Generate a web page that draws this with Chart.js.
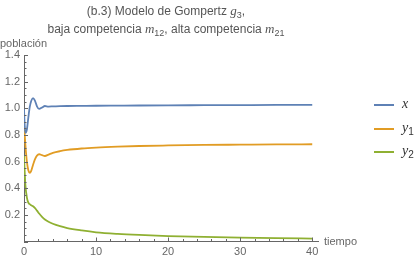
<!DOCTYPE html>
<html>
<head>
<meta charset="utf-8">
<script src="https://cdn.jsdelivr.net/npm/chart.js@4.4.0/dist/chart.umd.min.js"></script>
<style>
  body { margin: 0; background: #fff; }
  #wrap { position: relative; width: 418px; height: 259px; font-family: "Liberation Sans", Arial, sans-serif; color: #555; }
  #c { position: absolute; left: 0; top: 0; }
  .title { position: absolute; left: 0; width: 332px; text-align: center; font-size: 12px; line-height: 14px; white-space: nowrap; }
  .title i { font-family: "Liberation Serif", serif; font-size: 13px; }
  .title sub { font-size: 9px; vertical-align: -3px; line-height: 0; }
  .axlab { position: absolute; font-size: 11px; line-height: 12px; color: #666; white-space: nowrap; }
  .leg { position: absolute; left: 374px; width: 20px; height: 2px; }
  .legtxt { position: absolute; left: 402px; font-family: "Liberation Serif", serif; font-style: italic; font-size: 14px; line-height: 14px; color: #333; }
  .legtxt sub { font-family: "Liberation Sans", sans-serif; font-style: normal; font-size: 10px; vertical-align: -3px; line-height: 0; }
</style>
</head>
<body>
<div id="wrap">
  <canvas id="c" width="418" height="259"></canvas>
  <div class="title" style="top:4px">(b.3) Modelo de Gompertz <i>g</i><sub>3</sub>,</div>
  <div class="title" style="top:22px">baja competencia <i>m</i><sub>12</sub>, alta competencia <i>m</i><sub>21</sub></div>
  <div class="axlab" style="left:0;top:37px">población</div>
  <div class="axlab" style="left:324px;top:235px">tiempo</div>
  <div class="leg" style="top:104px;background:#5E81B5"></div>
  <div class="legtxt" style="top:97px">x</div>
  <div class="leg" style="top:128px;background:#E19C24"></div>
  <div class="legtxt" style="top:121px">y<sub>1</sub></div>
  <div class="leg" style="top:151px;background:#8FB032"></div>
  <div class="legtxt" style="top:144px">y<sub>2</sub></div>
</div>
<script>
/* ── Data ──────────────────────────────────────────────── */
const T  = [0, 0.1, 0.2, 0.4, 0.6, 0.8, 1.0, 1.25, 1.5, 1.8, 2.1, 2.5, 2.9, 3.4, 4, 5, 6, 8, 10, 13, 16, 20, 25, 30, 35, 40];
const X  = [1.0, 0.87, 0.815, 0.84, 0.93, 1.01, 1.055, 1.077, 1.06, 1.015, 0.995, 1.006, 1.017, 1.013, 1.014, 1.016, 1.017, 1.018, 1.019, 1.02, 1.021, 1.022, 1.023, 1.024, 1.025, 1.025];
const Y1 = [0.88, 0.8, 0.72, 0.6, 0.535, 0.515, 0.53, 0.575, 0.615, 0.645, 0.655, 0.648, 0.642, 0.652, 0.665, 0.678, 0.687, 0.698, 0.705, 0.712, 0.717, 0.721, 0.725, 0.727, 0.729, 0.73];
const Y2 = [0.65, 0.52, 0.42, 0.33, 0.292, 0.28, 0.272, 0.264, 0.252, 0.232, 0.21, 0.185, 0.165, 0.148, 0.133, 0.115, 0.101, 0.083, 0.069, 0.057, 0.049, 0.041, 0.034, 0.029, 0.025, 0.022];

const X_TICKS = [0, 10, 20, 30, 40];
const Y_TICKS = [0, 0.2, 0.4, 0.6, 0.8, 1.0, 1.2, 1.4];

const AXIS = '#666';
const FONT = { family: 'Liberation Sans', size: 11 };

const pts = ys => T.map((t, i) => ({ x: t, y: ys[i] }));

const line = (label, ys, color) => ({
    label            : label,
    data             : pts(ys),
    borderColor      : color,
    borderWidth      : 1.8,
    pointRadius      : 0,
    fill             : false,
    cubicInterpolationMode : 'monotone',
});

/* Mathematica-style inward ticks, major + minor */
const axisTicks = {
    id: 'axisTicks',
    afterDraw(chart) {
        const { ctx, chartArea: a, scales: { x, y } } = chart;
        ctx.save();
        ctx.strokeStyle = AXIS;
        ctx.lineWidth = 1;
        ctx.beginPath();
        for (let v = 0; v <= 40; v += 2) {
            const px = Math.round(x.getPixelForValue(v)) + 0.5;
            const len = v % 10 === 0 ? 4 : 2.5;
            ctx.moveTo(px, a.bottom);
            ctx.lineTo(px, a.bottom - len);
        }
        for (let k = 0; k <= 28; k++) {
            const v = k * 0.05;
            const py = Math.round(y.getPixelForValue(v)) + 0.5;
            const len = k % 4 === 0 ? 4 : 2.5;
            ctx.moveTo(a.left, py);
            ctx.lineTo(a.left + len, py);
        }
        ctx.stroke();
        ctx.restore();
    },
};

new Chart(document.getElementById('c'), {
    type : 'line',
    data : {
        datasets : [
            line('x',  X,  '#5E81B5'),
            line('y1', Y1, '#E19C24'),
            line('y2', Y2, '#8FB032'),
        ],
    },
    options : {
        responsive : false,
        animation  : false,
        layout     : { padding: { left: 0, top: 55, right: 100, bottom: 0 } },
        plugins    : {
            legend  : { display: false },
            title   : { display: false },
            tooltip : { enabled: false },
        },
        scales : {
            x : {
                type : 'linear',
                min  : 0,
                max  : 40.8,
                afterBuildTicks : s => { s.ticks = X_TICKS.map(v => ({ value: v })); },
                afterFit        : s => { s.height = 17.5; },
                ticks  : { color: AXIS, font: FONT, padding: 4, maxRotation: 0, autoSkip: false },
                grid   : { display: false, drawTicks: false },
                border : { display: true, color: AXIS, width: 1 },
            },
            y : {
                type : 'linear',
                min  : 0,
                max  : 1.4,
                afterBuildTicks : s => { s.ticks = Y_TICKS.map(v => ({ value: v })); },
                afterFit        : s => { s.width = 24; },
                ticks  : {
                    color    : AXIS,
                    font     : FONT,
                    padding  : 4,
                    callback : v => (v === 0 ? '' : v.toFixed(1)),
                },
                grid   : { display: false, drawTicks: false },
                border : { display: true, color: AXIS, width: 1 },
            },
        },
    },
    plugins : [axisTicks],
});
</script>
</body>
</html>
